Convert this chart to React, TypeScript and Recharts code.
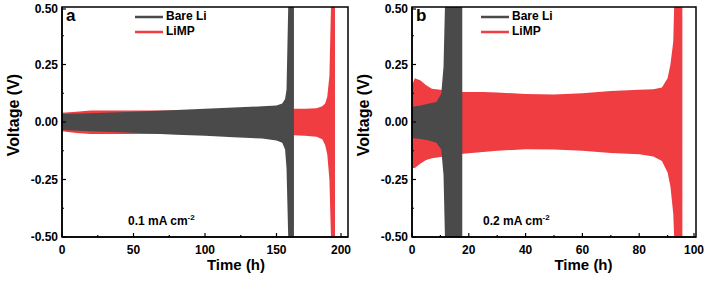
import React from 'react'
import { ComposedChart, Area, XAxis, YAxis, ReferenceArea } from 'recharts'

// panel a, 0.1 mA cm-2
const aLiMPTime = [0, 10, 20, 40, 60, 80, 100, 140, 162, 170, 178, 182, 184, 185.5, 187, 188.1, 190.9]
const aLiMPHigh = [0.04, 0.045, 0.05, 0.05, 0.05, 0.05, 0.05, 0.055, 0.058, 0.058, 0.06, 0.068, 0.08, 0.11, 0.2, 0.5, 0.5]
const aLiMPLow = [-0.04, -0.048, -0.052, -0.052, -0.052, -0.052, -0.052, -0.056, -0.058, -0.06, -0.064, -0.075, -0.1, -0.14, -0.25, -0.5, -0.5]

const aBareTime = [0, 20, 50, 80, 100, 120, 140, 150, 154, 156, 157, 158.2, 162.2]
const aBareHigh = [0.035, 0.038, 0.045, 0.052, 0.058, 0.063, 0.068, 0.072, 0.08, 0.1, 0.14, 0.5, 0.5]
const aBareLow = [-0.035, -0.04, -0.047, -0.055, -0.06, -0.066, -0.072, -0.08, -0.09, -0.12, -0.2, -0.5, -0.5]

// panel b, 0.2 mA cm-2
const bLiMPTime = [0, 1, 3, 5, 7, 10, 14, 18, 25, 30, 40, 50, 60, 70, 80, 85, 88, 90, 91, 92, 92.3, 95.2]
const bLiMPHigh = [0.16, 0.19, 0.18, 0.16, 0.145, 0.14, 0.135, 0.13, 0.13, 0.128, 0.122, 0.12, 0.125, 0.135, 0.14, 0.142, 0.15, 0.19, 0.25, 0.35, 0.5, 0.5]
const bLiMPLow = [-0.2, -0.2, -0.18, -0.165, -0.158, -0.152, -0.145, -0.138, -0.13, -0.125, -0.118, -0.12, -0.125, -0.135, -0.14, -0.15, -0.17, -0.22, -0.28, -0.4, -0.5, -0.5]

const bBareTime = [0, 3, 6, 8.6, 10.3, 11.1, 11.6, 17.7]
const bBareHigh = [0.066, 0.072, 0.08, 0.087, 0.123, 0.24, 0.5, 0.5]
const bBareLow = [-0.07, -0.074, -0.08, -0.09, -0.12, -0.23, -0.5, -0.5]

const voltTicks = [-0.5, -0.375, -0.25, -0.125, 0, 0.125, 0.25, 0.375, 0.5]
const aTimeTicks = [0, 25, 50, 75, 100, 125, 150, 175, 200]
const bTimeTicks = [0, 10, 20, 30, 40, 50, 60, 70, 80, 90, 100]

const GRAY = '#4a4a4a'
const RED = '#ef3d42'
const FONT = '"Liberation Sans", Arial, sans-serif'

const band = (t: number[], lo: number[], hi: number[]) =>
  t.map((x, i) => ({ t: x, v: [lo[i], hi[i]] }))

function XTick({ x, y, payload, step }: any) {
  const major = payload.value % step === 0
  return (
    <g>
      <line x1={x} x2={x} y1={y} y2={y - (major ? 4 : 2)} stroke="#000" strokeWidth={1.2} />
      {major && (
        <text x={x} y={y + 17} textAnchor="middle" fontSize={12} fontWeight="bold" fontFamily={FONT} fill="#000">
          {payload.value}
        </text>
      )}
    </g>
  )
}

function YTick({ x, y, payload }: any) {
  const major = Math.abs((payload.value * 4) % 1) < 1e-6
  return (
    <g>
      <line x1={x} x2={x + (major ? 4 : 2)} y1={y} y2={y} stroke="#000" strokeWidth={1.2} />
      {major && (
        <text x={x - 4} y={y + 4} textAnchor="end" fontSize={12} fontWeight="bold" fontFamily={FONT} fill="#000">
          {payload.value.toFixed(2)}
        </text>
      )}
    </g>
  )
}

interface PanelProps {
  left: number
  yAxisWidth: number
  rightMargin: number
  xMax: number
  ticks: number[]
  step: number
  letter: string
  current: string
  currentX: number
  legendX: number
  ylabelX: number
  red: { t: number; v: number[] }[]
  gray: { t: number; v: number[] }[]
}

function Panel(p: PanelProps) {
  const txt: React.CSSProperties = { position: 'absolute', fontFamily: FONT, fontWeight: 'bold', color: '#000', whiteSpace: 'nowrap' }
  return (
    <div style={{ position: 'absolute', left: p.left, top: 0, width: 353, height: 282 }}>
      <ComposedChart width={353} height={282} margin={{ top: 7, right: p.rightMargin, bottom: 0, left: 0 }}>
        <XAxis
          dataKey="t"
          type="number"
          domain={[0, p.xMax]}
          ticks={p.ticks}
          allowDataOverflow
          height={45}
          tickSize={0}
          tickMargin={0}
          tickLine={false}
          axisLine={{ stroke: '#000', strokeWidth: 1.5 }}
          tick={<XTick step={p.step} />}
        />
        <YAxis
          type="number"
          domain={[-0.5, 0.5]}
          ticks={voltTicks}
          allowDataOverflow
          width={p.yAxisWidth}
          tickSize={0}
          tickMargin={0}
          tickLine={false}
          axisLine={{ stroke: '#000', strokeWidth: 1.5 }}
          tick={<YTick />}
        />
        <Area data={p.red} dataKey="v" type="linear" fill={RED} fillOpacity={1} stroke="none" isAnimationActive={false} />
        <Area data={p.gray} dataKey="v" type="linear" fill={GRAY} fillOpacity={1} stroke="none" isAnimationActive={false} />
        <ReferenceArea x1={0} x2={p.xMax} y1={-0.5} y2={0.5} fill="none" stroke="#000" strokeWidth={1.5} />
      </ComposedChart>
      <div style={{ ...txt, left: p.ylabelX - 60, top: 106, width: 120, textAlign: 'center', fontSize: 16, transform: 'rotate(-90deg)' }}>
        Voltage (V)
      </div>
      <div style={{ ...txt, left: 0, top: 256, width: 353 - p.rightMargin + p.yAxisWidth, textAlign: 'center', fontSize: 15 }}>
        <span style={{ display: 'inline-block', marginLeft: p.yAxisWidth }}>Time (h)</span>
      </div>
      <div style={{ ...txt, left: p.yAxisWidth + 4, top: 6, fontSize: 17 }}>{p.letter}</div>
      <div style={{ ...txt, left: p.currentX, top: 213, fontSize: 12 }}>
        {p.current} mA cm<sup style={{ fontSize: 8 }}>-2</sup>
      </div>
      <svg style={{ position: 'absolute', left: p.legendX, top: 10 }} width={28} height={30}>
        <line x1={0} x2={28} y1={7} y2={7} stroke={GRAY} strokeWidth={2.5} />
        <line x1={0} x2={28} y1={22} y2={22} stroke={RED} strokeWidth={2.5} />
      </svg>
      <div style={{ ...txt, left: p.legendX + 31, top: 9, fontSize: 12 }}>Bare Li</div>
      <div style={{ ...txt, left: p.legendX + 31, top: 24, fontSize: 12 }}>LiMP</div>
    </div>
  )
}

export default function App() {
  return (
    <div style={{ position: 'absolute', left: 0, top: 0, width: 706, height: 282, background: '#fff' }}>
      <Panel
        left={0}
        yAxisWidth={62}
        rightMargin={5}
        xMax={200}
        ticks={aTimeTicks}
        step={50}
        letter="a"
        current="0.1"
        currentX={128}
        legendX={135}
        ylabelX={14}
        red={band(aLiMPTime, aLiMPLow, aLiMPHigh)}
        gray={band(aBareTime, aBareLow, aBareHigh)}
      />
      <Panel
        left={353}
        yAxisWidth={59}
        rightMargin={10}
        xMax={100}
        ticks={bTimeTicks}
        step={20}
        letter="b"
        current="0.2"
        currentX={130}
        legendX={128}
        ylabelX={11}
        red={band(bLiMPTime, bLiMPLow, bLiMPHigh)}
        gray={band(bBareTime, bBareLow, bBareHigh)}
      />
    </div>
  )
}
